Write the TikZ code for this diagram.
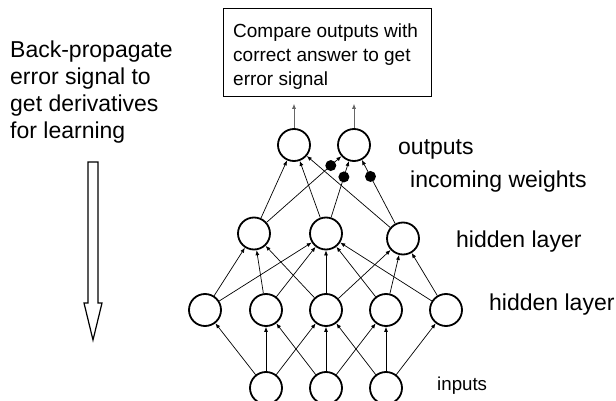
\documentclass[tikz,border=0pt]{standalone}
\usepackage{fontspec}
\setmainfont{Liberation Sans}
\usetikzlibrary{arrows.meta,calc}
\begin{document}
\begin{tikzpicture}[x=1pt,y=-1pt,
 neuron/.style={circle,draw,line width=1.8pt,minimum size=32pt,inner sep=0pt,fill=white},
 conn/.style={line width=0.7pt,-{Latex[length=5pt,width=4pt]}},
 wdot/.style={circle,fill=black,minimum size=11pt,inner sep=0pt},
 lbl/.style={anchor=base west,inner sep=0pt,font=\fontsize{23}{27}\selectfont}]
\useasboundingbox (0,0) rectangle (616,401);
% left text and hollow arrow
\node[anchor=north west,inner sep=0pt,align=left,font=\fontsize{23}{27}\selectfont] (bp) at (10,40.5) {Back-propagate\\error signal to\\get derivatives\\for learning};
\draw[line width=1.2pt,line join=miter] (88,162) -- (98,162) -- (98,303) -- (102,303) -- (93,340) -- (84,303) -- (88,303) -- cycle;
% box
\node[draw,line width=0.8pt,minimum width=208pt,minimum height=88pt,anchor=north west,inner sep=0pt] (box) at (223,8) {};
\node[anchor=north west,inner sep=0pt,align=left,font=\fontsize{19}{24}\selectfont] (boxtext) at (233,24) {Compare outputs with\\correct answer to get\\error signal};
% neurons
\node[neuron] (i1) at (266,388) {};
\node[neuron] (i2) at (326,388) {};
\node[neuron] (i3) at (386,388) {};
\node[neuron] (a1) at (205,310) {};
\node[neuron] (a2) at (266,310) {};
\node[neuron] (a3) at (326,310) {};
\node[neuron] (a4) at (386,310) {};
\node[neuron] (a5) at (446,310) {};
\node[neuron] (b1) at (254,233.5) {};
\node[neuron] (b2) at (326,233.5) {};
\node[neuron] (b3) at (403,238.5) {};
\node[neuron] (o1) at (294,145) {};
\node[neuron] (o2) at (354,145) {};
% connections inputs -> hidden 1
\foreach \s/\t in {i1/a1,i1/a2,i1/a3,i2/a2,i2/a3,i2/a4,i3/a3,i3/a4,i3/a5}
  \draw[conn] (\s) -- (\t);
% hidden 1 -> hidden 2
\foreach \s/\t in {a1/b1,a1/b2,a2/b1,a2/b2,a3/b1,a3/b2,a3/b3,a4/b2,a4/b3,a5/b2,a5/b3}
  \draw[conn] (\s) -- (\t);
% hidden 2 -> outputs
\foreach \s/\t in {b1/o1,b2/o1,b3/o1,b1/o2,b2/o2,b3/o2}
  \draw[conn] (\s) -- (\t);
% weight dots
\node[wdot] (d1) at ($(o2)!31pt!(b1)$) {};
\node[wdot] (d2) at ($(o2)!33.5pt!(b2)$) {};
\node[wdot] (d3) at ($(o2)!35.5pt!(b3)$) {};
% outputs -> box
\draw[conn,black!60,shorten >=7pt] (o1) -- (o1 |- box.south);
\draw[conn,black!60,shorten >=7pt] (o2) -- (o2 |- box.south);
% labels
\node[lbl] (lout) at (398,154) {outputs};
\node[lbl] (lw) at (410,188) {incoming weights};
\node[lbl] (lh2) at (456,247) {hidden layer};
\node[lbl] (lh1) at (489,310) {hidden layer};
\node[lbl,font=\fontsize{18.7}{22}\selectfont] (lin) at (437,390) {inputs};
\end{tikzpicture}
\end{document}
